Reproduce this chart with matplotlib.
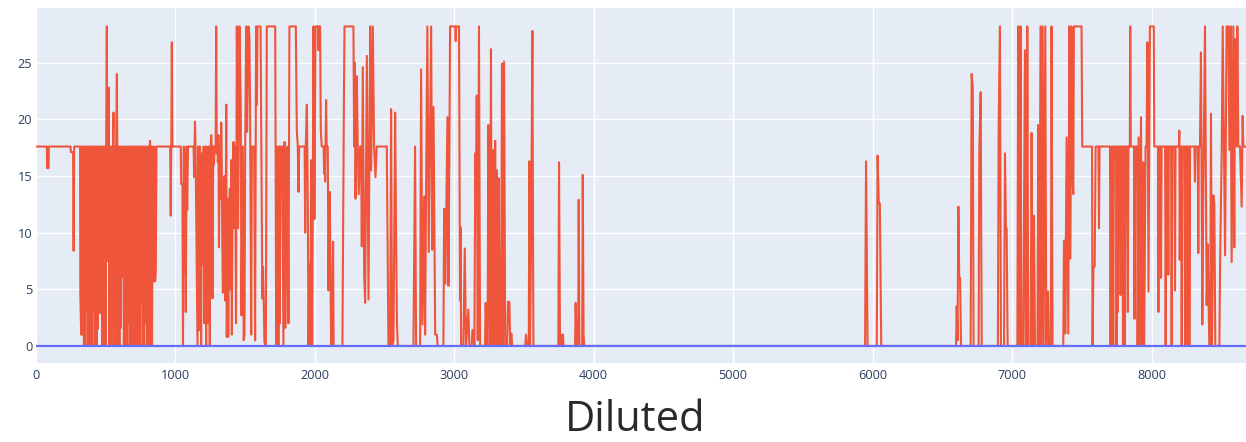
import matplotlib
matplotlib.use("Agg")
import matplotlib.pyplot as plt

# ---- data (sample index, value) ----
sec0 = [(0, 17.6), (80, 17.6), (82, 15.7), (92, 15.7), (94, 17.6), (250, 17.6), (252, 17.1),
        (268, 17.1), (272, 8.4), (276, 17.6), (318, 17.6)]
sec1 = [(320, 4.6), (326, 1.0), (331, 17.6), (336, 1.0), (341, 17.6), (346, 0), (351, 17.6), (356, 0),
        (361, 17.6), (366, 3.0), (371, 17.6), (376, 0), (381, 17.6), (386, 0), (391, 17.6), (396, 1.0),
        (401, 17.6), (406, 0), (411, 17.6), (416, 3.0), (421, 17.6), (426, 0), (431, 17.6), (436, 0),
        (441, 17.6), (446, 1.5), (451, 17.6), (456, 7.1), (460, 17.6), (464, 2.9), (470, 17.6), (476, 0),
        (481, 17.6), (486, 15.2), (490, 0), (495, 17.6), (500, 0), (505, 17.6), (510, 28.2), (514, 7.5),
        (519, 17.6), (524, 22.8), (528, 0), (532, 17.6), (535, 17.0), (540, 0), (545, 17.6), (550, 0),
        (554, 17.6), (558, 20.6), (562, 2.0), (567, 17.6), (572, 0), (577, 17.6), (582, 24.0), (586, 15.0),
        (590, 0), (595, 17.6), (600, 0), (605, 17.6), (610, 1.6), (615, 17.6), (620, 6.1), (626, 17.6),
        (632, 0), (637, 5.0), (642, 17.6), (647, 0), (652, 17.6), (657, 0), (662, 17.6), (667, 2.0),
        (672, 17.6), (677, 0), (682, 17.6), (687, 0), (692, 17.6), (697, 3.0), (702, 17.6), (707, 0),
        (712, 17.6), (717, 0), (722, 17.6), (727, 1.0), (732, 17.6), (737, 0), (742, 17.6), (747, 0),
        (752, 17.6), (757, 4.0), (762, 17.6), (767, 0), (772, 17.6), (777, 0), (782, 17.6), (787, 2.0),
        (792, 17.6), (797, 0), (802, 3.2), (807, 17.6), (812, 0), (816, 17.6), (820, 18.1), (824, 0),
        (829, 17.6), (834, 0), (839, 17.6), (844, 5.7), (850, 17.6), (856, 5.7), (861, 6.7), (866, 17.6)]
sec2 = [(964, 17.6), (968, 11.5), (972, 17.6), (976, 26.8), (980, 17.6),
        (1040, 17.6), (1043, 14.3), (1052, 14.3), (1056, 0), (1062, 17.6), (1066, 6.5), (1072, 17.0),
        (1076, 3.0), (1082, 17.6), (1086, 12.0), (1092, 17.6), (1132, 17.6), (1136, 14.9), (1142, 19.8),
        (1146, 17.6), (1160, 0), (1166, 17.6), (1172, 1.4), (1178, 17.6), (1186, 0), (1192, 17.0),
        (1198, 7.2), (1204, 17.6), (1210, 2.0), (1216, 17.6), (1222, 0), (1228, 17.6), (1234, 2.0),
        (1240, 17.6), (1248, 0), (1254, 17.6), (1258, 18.6), (1262, 17.6), (1268, 4.2), (1273, 17.6),
        (1278, 16.0), (1284, 17.6), (1290, 17.6), (1294, 28.2), (1298, 17.0), (1302, 18.3), (1306, 16.2),
        (1310, 18.6), (1314, 8.7), (1320, 17.6), (1326, 13.0), (1330, 19.7), (1334, 16.0), (1338, 8.7),
        (1342, 4.7), (1348, 11.1), (1354, 15.0), (1360, 4.0), (1366, 21.3), (1370, 0.8), (1376, 13.0),
        (1380, 0.8), (1386, 8.9), (1392, 13.9), (1396, 5.0), (1402, 16.4), (1406, 1.0), (1412, 14.0),
        (1418, 18.0), (1424, 10.4), (1430, 17.6), (1436, 2.0), (1442, 28.2), (1451, 10.4), (1461, 28.2),
        (1470, 21.3), (1475, 2.7), (1485, 17.6), (1491, 0.5), (1497, 1.0), (1502, 17.6), (1509, 28.2),
        (1516, 18.9), (1525, 28.2), (1532, 27.4), (1537, 21.1), (1545, 1.0), (1550, 17.6), (1566, 17.6),
        (1573, 0.5), (1580, 28.2), (1586, 21.3), (1590, 28.2), (1612, 28.2), (1616, 21.2), (1620, 13.0),
        (1625, 4.2), (1630, 7.0), (1640, 0.3), (1650, 0), (1657, 28.2), (1717, 28.2), (1720, 17.6),
        (1724, 0), (1733, 17.6), (1740, 0), (1745, 17.6), (1750, 2.0), (1756, 17.6), (1768, 17.6),
        (1776, 0), (1784, 18.0), (1791, 1.6), (1800, 16.3), (1806, 17.6), (1812, 2.0), (1819, 28.2),
        (1865, 28.2), (1872, 19.0), (1879, 17.6), (1884, 13.6), (1889, 17.6), (1928, 17.6), (1932, 10.0),
        (1936, 17.6), (1944, 21.3), (1950, 13.9), (1956, 0), (1962, 7.2), (1968, 0), (1975, 16.4),
        (1982, 0)]
sec3 = [(1992, 28.2), (1998, 11.2), (2006, 28.2), (2024, 28.2), (2027, 26.1), (2031, 28.2), (2039, 28.2),
        (2044, 19.0), (2051, 17.6), (2064, 17.6), (2068, 15.2), (2071, 17.6), (2075, 14.5), (2078, 17.6),
        (2082, 21.7), (2086, 17.6), (2094, 17.6), (2099, 4.9), (2104, 12.1), (2108, 13.6), (2113, 7.4),
        (2118, 0), (2125, 2.0), (2132, 9.2), (2136, 0), (2199, 0), (2210, 22.4), (2214, 28.2), (2278, 28.2),
        (2283, 17.6), (2287, 25.0), (2293, 13.0), (2302, 23.8), (2309, 17.6), (2316, 13.4), (2326, 17.6),
        (2333, 17.6), (2338, 8.8), (2345, 24.6), (2355, 6.1), (2362, 3.8), (2374, 25.6), (2386, 4.1),
        (2398, 28.2), (2405, 15.5), (2417, 28.2), (2426, 17.6), (2436, 14.9), (2445, 17.6), (2517, 17.6),
        (2529, 0), (2541, 0), (2548, 20.9), (2555, 0), (2565, 0.5), (2577, 20.6), (2584, 9.4), (2590, 2.0),
        (2596, 0), (2708, 0), (2720, 17.6), (2727, 0), (2756, 0), (2763, 24.4), (2773, 1.9), (2785, 13.2),
        (2792, 1.0), (2799, 14.2), (2808, 28.2), (2818, 8.3), (2835, 28.2), (2843, 8.5), (2852, 21.1),
        (2864, 1.0), (2876, 1.0), (2882, 0), (2923, 0), (2928, 12.1), (2937, 5.5), (2952, 20.2),
        (2959, 5.3), (2966, 17.6), (2971, 28.2), (3008, 28.2), (3011, 26.9), (3014, 28.2), (3035, 28.2)]
sec4 = [(3042, 4.0), (3046, 10.5), (3050, 0), (3066, 0), (3076, 8.6), (3085, 0), (3102, 3.2), (3109, 0),
        (3126, 0), (3131, 1.4), (3138, 1.4), (3145, 0), (3152, 17.0), (3157, 13.0), (3162, 22.1),
        (3169, 0.5), (3178, 28.2), (3186, 0), (3221, 0), (3226, 3.8), (3233, 0), (3240, 0), (3245, 19.5),
        (3250, 12.6), (3257, 0), (3264, 26.2), (3270, 0), (3276, 10.4), (3282, 17.3), (3288, 0),
        (3294, 18.1), (3300, 0), (3307, 15.5), (3313, 0), (3319, 14.8), (3327, 0), (3336, 0), (3343, 24.9),
        (3350, 0), (3358, 25.1), (3366, 0), (3380, 0), (3386, 3.9), (3396, 3.9), (3402, 0), (3410, 1.1),
        (3416, 0), (3510, 0), (3515, 1.0), (3522, 0), (3535, 0), (3539, 16.3), (3544, 0), (3552, 9.8),
        (3561, 27.8), (3568, 0), (3747, 0), (3752, 16.2), (3759, 0), (3769, 0), (3773, 1.0), (3780, 1.0),
        (3784, 0), (3867, 0), (3871, 3.8), (3879, 0), (3889, 0), (3893, 12.9), (3898, 0), (3918, 0),
        (3922, 15.1), (3928, 1.0), (3933, 0)]
sec5 = [(5946, 0), (5953, 16.3), (5964, 0), (6030, 0), (6036, 16.8), (6044, 12.6), (6052, 12.6), (6062, 0),
        (6598, 0), (6603, 3.5), (6609, 0.5), (6615, 12.3), (6621, 6.0), (6627, 6.0), (6634, 0), (6703, 0),
        (6710, 24.0), (6718, 22.9), (6724, 0), (6760, 0), (6765, 17.3), (6775, 22.4), (6782, 0), (6898, 0),
        (6904, 19.7), (6913, 28.2), (6920, 0), (6942, 0), (6949, 17.0), (6956, 10.4), (6961, 10.4),
        (6968, 0), (7038, 0), (7044, 28.2), (7050, 0), (7056, 0), (7061, 28.2), (7066, 0), (7080, 0),
        (7092, 26.1), (7098, 0), (7104, 0), (7109, 28.2), (7116, 0), (7133, 0), (7140, 18.8), (7147, 0),
        (7157, 11.5), (7164, 0), (7182, 0), (7188, 19.5), (7195, 0), (7204, 28.2), (7210, 0), (7219, 28.2),
        (7226, 0), (7238, 28.2), (7245, 0), (7252, 4.8), (7258, 4.8), (7264, 0), (7278, 0), (7283, 28.2),
        (7290, 0), (7367, 0), (7372, 9.3), (7378, 9.3), (7381, 1.1), (7391, 18.4), (7403, 1.1),
        (7410, 28.2), (7418, 7.7), (7425, 28.2), (7432, 15.0), (7439, 13.4), (7443, 28.2), (7498, 28.2),
        (7503, 17.6), (7573, 17.6), (7577, 0), (7583, 7.0), (7592, 7.0), (7599, 17.6), (7619, 17.6),
        (7623, 10.4), (7627, 17.6), (7702, 17.6), (7706, 0), (7711, 17.6), (7721, 17.6), (7725, 0),
        (7730, 17.6), (7745, 17.6), (7749, 0), (7754, 17.6), (7758, 3.0), (7762, 17.6), (7774, 17.6),
        (7778, 4.5), (7782, 17.6), (7791, 17.6), (7795, 0), (7799, 17.6), (7805, 17.6), (7809, 0),
        (7814, 17.6), (7826, 17.6), (7830, 3.0), (7834, 17.6), (7844, 17.6), (7847, 28.2), (7851, 17.6),
        (7874, 17.6), (7878, 2.4), (7882, 17.6), (7896, 17.6), (7900, 0), (7907, 18.4), (7916, 0),
        (7924, 20.2), (7933, 0), (7940, 16.2), (7947, 0), (7957, 17.6), (7964, 17.6), (7971, 26.8),
        (7978, 4.8), (7988, 28.2)]
sec6 = [(8016, 28.2), (8019, 17.6), (8046, 17.6), (8049, 3.0), (8053, 17.6), (8065, 17.6), (8068, 6.0),
        (8072, 17.6), (8097, 17.6), (8101, 0), (8106, 17.6), (8116, 17.6), (8120, 6.3), (8124, 17.6),
        (8140, 17.6), (8144, 0), (8148, 17.6), (8164, 17.6), (8168, 4.9), (8172, 17.6), (8196, 17.6),
        (8199, 19.0), (8202, 7.6), (8206, 17.6), (8212, 17.6), (8216, 0), (8221, 17.6), (8236, 17.6),
        (8240, 0), (8245, 17.6), (8248, 17.6), (8252, 0), (8257, 17.6), (8260, 17.6), (8264, 0),
        (8268, 17.6), (8271, 0), (8276, 17.6), (8307, 17.6), (8311, 14.5), (8315, 17.6), (8331, 17.6),
        (8335, 8.2), (8339, 17.6), (8347, 17.6), (8354, 25.9), (8364, 1.9), (8371, 14.0), (8383, 28.2),
        (8395, 3.6), (8402, 9.0), (8414, 0), (8420, 0), (8426, 20.5), (8433, 0), (8443, 13.3),
        (8450, 12.6), (8457, 0), (8486, 0), (8491, 7.0), (8503, 17.3), (8510, 28.2), (8527, 8.0),
        (8538, 28.2), (8551, 28.2), (8558, 17.3), (8567, 28.2), (8574, 7.4), (8586, 28.2), (8593, 8.7),
        (8598, 27.1), (8610, 17.6), (8615, 28.2), (8622, 17.6), (8634, 17.6), (8646, 12.3), (8653, 20.3),
        (8658, 17.6), (8677, 17.6)]

diluted_pts = sec0 + sec1 + sec2 + sec3 + sec4 + sec5 + sec6
diluted_x = [p[0] for p in diluted_pts]
diluted_y = [p[1] for p in diluted_pts]

baseline_x = [0, 8677]
baseline_y = [0, 0]

x_ticks = [0, 1000, 2000, 3000, 4000, 5000, 6000, 7000, 8000]
y_ticks = [0, 5, 10, 15, 20, 25]
title_text = "Diluted"

# ---- figure ----
W, H = 1246, 442
fig = plt.figure(figsize=(W / 100, H / 100), dpi=100)
ax = fig.add_axes([35.7 / W, (H - 363.3) / H, (W - 35.7) / W, (363.3 - 8.3) / H])
ax.set_facecolor("#E5ECF6")
for s in ax.spines.values():
    s.set_visible(False)

ax.plot(diluted_x, diluted_y, color="#EF553B", lw=1.5, solid_joinstyle="round", zorder=3)
ax.plot(baseline_x, baseline_y, color="#636EFA", lw=1.6, zorder=4)

ax.set_xlim(0, 8677)
ax.set_ylim(-1.53, 29.8)
ax.set_xticks(x_ticks)
ax.set_yticks(y_ticks)
ax.grid(True, color="white", lw=1.0, zorder=0)
ax.set_axisbelow(True)
ax.tick_params(axis="x", length=0, labelsize=9.2, labelcolor="#2a3f5f", pad=4)
ax.tick_params(axis="y", length=0, labelsize=9.2, labelcolor="#2a3f5f", pad=2.5)
for lab in ax.get_xticklabels() + ax.get_yticklabels():
    lab.set_fontfamily("Open Sans")

fig.text(635 / W, (H - 431) / H, title_text, ha="center", va="baseline",
         fontsize=30, color="#2a2a2a", fontfamily="Open Sans")

fig.savefig("out.png", dpi=100)
